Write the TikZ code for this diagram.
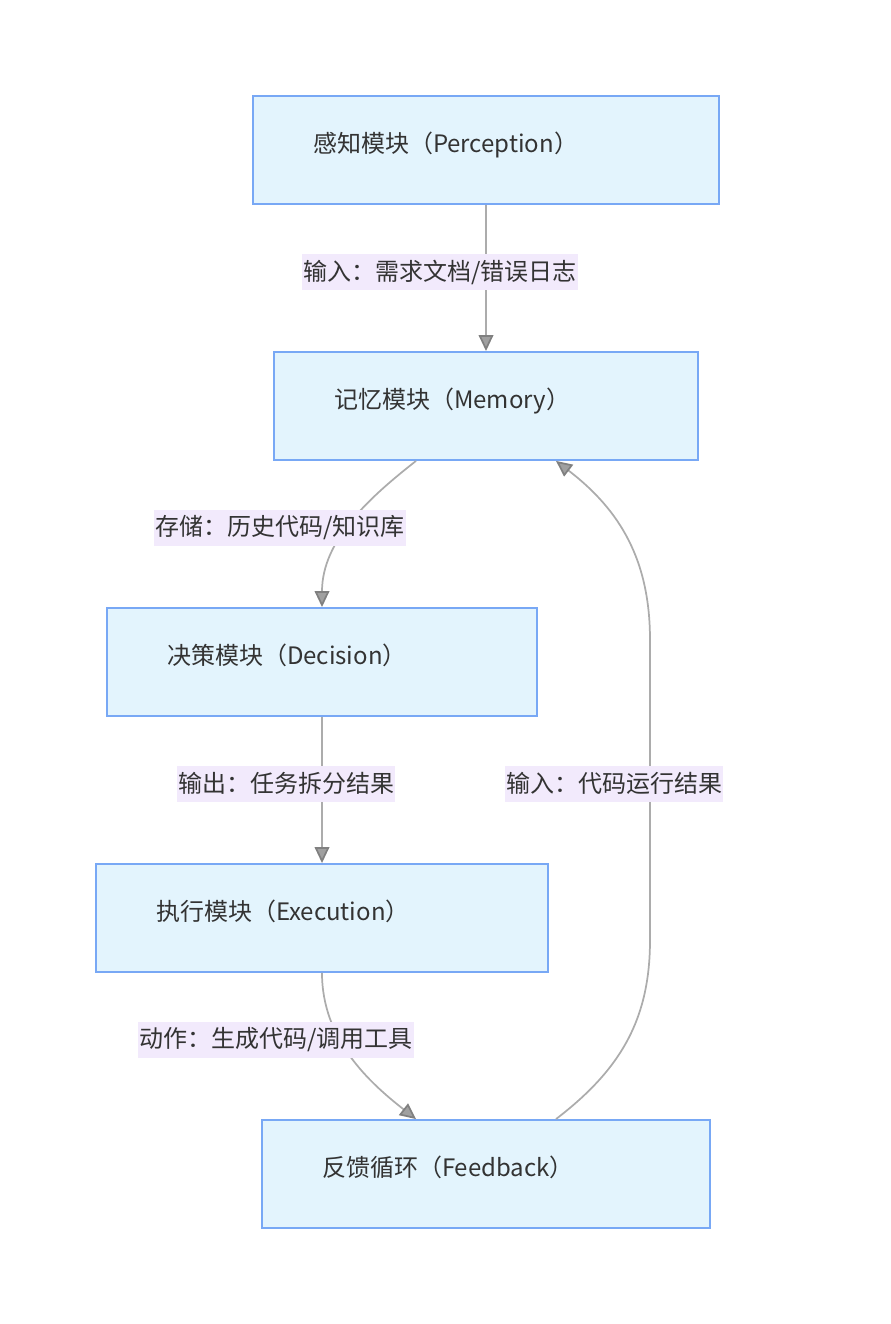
\documentclass[tikz,border=0pt]{standalone}
\usepackage{fontspec}
\setmainfont{Noto Sans CJK SC}
\usetikzlibrary{arrows.meta}

\definecolor{boxfill}{RGB}{227,244,253}
\definecolor{boxline}{RGB}{120,168,245}
\definecolor{labelfill}{RGB}{242,234,252}
\definecolor{edgegray}{RGB}{172,172,172}
\definecolor{tipgray}{RGB}{160,160,160}
\definecolor{textgray}{RGB}{51,51,51}

\tikzset{
    module/.style={draw=boxline, line width=1.4pt, fill=boxfill, text=textgray,
        font=\fontsize{18pt}{22pt}\selectfont, align=left,
        inner xsep=45pt, inner ysep=0pt,
        text width=(#1-120)*0.75pt, minimum width=#1*0.75pt, minimum height=81pt,
        text height=16pt, text depth=12pt},
    flow/.style={draw=edgegray, line width=1.3pt,
        -{Triangle[length=12pt,width=11pt,fill=tipgray,color=tipgray!80!black]}},
    flowlabel/.style={fill=labelfill, text=textgray, font=\fontsize{18pt}{22pt}\selectfont,
        inner xsep=1pt, inner ysep=0pt, minimum height=27pt}
}

\begin{document}
\begin{tikzpicture}[x=0.75pt,y=-0.75pt]
    \useasboundingbox (0,0) rectangle (890,1324);

    % modules
    \node[module=466] (perc) at (486,150) {感知模块（Perception）};
    \node[module=424] (mem) at (486,406) {记忆模块（Memory）};
    \node[module=430] (deci) at (322,662) {决策模块（Decision）};
    \node[module=452] (exec) at (322,918) {执行模块（Execution）};
    \node[module=448] (feed) at (486,1174) {反馈循环（Feedback）};

    % connectors
    \draw[flow] (perc.south) -- (mem.north);
    \draw[flow] ([xshift=-52.5pt]mem.south) .. controls (370,497) and (322,540) .. (deci.north);
    \draw[flow] (deci.south) -- (exec.north);
    \draw[flow] (exec.south) .. controls (322,1040) and (370,1083) .. ([xshift=-52.5pt]feed.north);
    \draw[flow] ([xshift=52.5pt]feed.north) .. controls (620,1070) and (650,1020) .. (650,940)
        -- (650,640) .. controls (650,560) and (620,510) .. ([xshift=52.5pt]mem.south);

    % labels
    \node[flowlabel] (lab1) at (440,272) {输入：需求文档/错误日志};
    \node[flowlabel] (lab2) at (280,527.5) {存储：历史代码/知识库};
    \node[flowlabel] (lab3) at (286,783.5) {输出：任务拆分结果};
    \node[flowlabel] (lab4) at (276,1039.5) {动作：生成代码/调用工具};
    \node[flowlabel] (lab5) at (614,783.5) {输入：代码运行结果};
\end{tikzpicture}
\end{document}
